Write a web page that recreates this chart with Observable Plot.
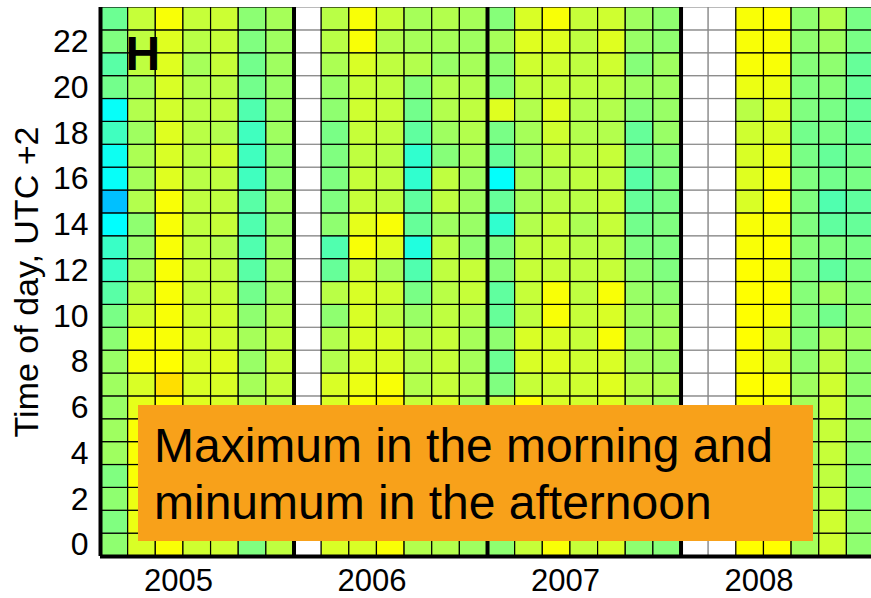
<!DOCTYPE html>
<html>
<head>
<meta charset="utf-8">
<script src="https://cdn.jsdelivr.net/npm/d3@7"></script>
<script src="https://cdn.jsdelivr.net/npm/@observablehq/plot@0.6"></script>
<style>
  html, body { margin: 0; padding: 0; background: #fff; overflow: hidden; }
  #wrap { position: relative; width: 871px; height: 598px; font-family: "Liberation Sans", Arial, sans-serif; }
  #note {
    position: absolute; left: 138px; top: 405px; width: 675px; height: 136px;
    background: #F8A11A; color: #000; box-sizing: border-box;
    padding: 12px 0 0 16px; font-size: 48px; line-height: 57px; white-space: nowrap;
  }
</style>
</head>
<body>
<div id="wrap">
  <div id="chart"></div>
  <div id="note">Maximum in the morning and<br>minumum in the afternoon</div>
</div>
<script>
// Years shown on the x axis; each year has 7 monthly columns
const years = [2005, 2006, 2007, 2008];
const hourTicks = [0, 2, 4, 6, 8, 10, 12, 14, 16, 18, 20, 22];
const panelLabel = "H";
const yLabel = "Time of day, UTC +2";
const N = null;
const missing = [N,N,N,N,N,N,N,N,N,N,N,N,N,N,N,N,N,N,N,N,N,N,N,N];

// Values per column, hour 0 .. hour 23 (colour index, null = no data)
const v2005 = [
  [0.25,0,0.25,0,0.5,0.5,0.4,0.5,0.4,0.2,-0.1,-0.6,-1.1,-1.1,-2,-3,-1.9,-1.8,-1.0,-1.9,-0.2,-0.6,0,-0.3],
  [1.4,1.7,1.7,1.9,1.9,1.9,1.6,1.4,1.9,1.9,1.25,0.9,0.6,0.4,0.25,0.8,0.6,0.7,0.5,0.8,0.6,1.0,1.0,1.1],
  [1.9,1.9,1.9,2.0,2.0,2.2,2.0,2.5,2.0,1.9,1.9,1.9,1.9,1.9,1.9,1.9,1.5,1.4,1.5,1.3,1.4,1.5,1.5,1.9],
  [1.25,1.2,1.3,1.3,1.4,1.4,1.5,1.4,1.4,1.4,1.25,1.1,1.1,1.0,1.0,1.0,0.9,0.9,0.9,0.9,0.8,0.6,0.9,1.1],
  [1.25,1.25,1.2,1.3,1.3,1.4,1.4,1.4,1.5,1.25,1.25,1.1,1.0,0.8,1.1,1.0,1.0,1.25,0.8,1.0,0.9,1.1,1.1,1.2],
  [0,0.2,0.3,0.4,0.5,0.6,0.9,0.6,0.4,0.6,0.25,-0.2,-0.6,-0.75,-0.75,-0.6,-1,-1,-1,-0.75,-0.2,-0.2,0,0.2],
  [1.0,1.0,1.0,0.9,0.9,1.0,1.0,1.1,1.1,1.0,0.8,0.6,0.6,0.5,0.4,0.5,0.25,0.25,0.5,0.4,0.4,0.5,0.5,0.6]
];
const v2006 = [
  missing,
  [1.4,1.3,1.3,1.2,1.2,1.3,1.4,1.4,0.8,0.8,0.25,0.9,-0.4,-0.75,0.25,0,0,0,-0.1,0.25,0.4,0.7,0.9,0.9],
  [1.4,1.5,1.6,1.7,1.9,1.9,1.9,1.7,1.4,1.4,1.4,1.4,1.25,1.9,1.6,1.1,1.1,1.0,1.1,1.25,1.1,1.4,1.9,1.9],
  [1.9,1.9,1.9,1.9,1.9,2.0,2.2,1.9,1.4,1.4,1.0,1.25,0.6,1.5,1.9,1.0,1.0,0.9,1.0,1.1,1.0,1.0,0.8,1.1],
  [0.8,0.8,0.8,0.9,0.9,1.0,1.1,0.8,0.8,0.8,0.4,-0.1,-0.75,-1.5,-0.4,-0.5,-1.25,-1.25,-0.5,-0.2,0.1,0.8,0.6,0.6],
  [0.8,0.9,0.9,1.0,1.1,1.2,1.4,1.1,1.1,1.1,1.0,0.9,1.0,1.0,0.5,1.0,1.0,0.1,0.5,0.8,0.8,0.4,0.6,0.8],
  [0.5,0.5,0.5,0.5,0.6,0.6,0.6,0.8,0.6,0.6,0.8,1.1,1.1,0.25,0.4,0.5,0.5,0.6,0.8,1.0,0.8,0.6,0.5,0.6]
];
const v2007 = [
  [0.25,0.3,0.4,0.4,0.5,0.6,1.1,0,-0.3,0.25,-0.4,-0.5,0.1,0,-1.25,-0.4,-1.95,-0.4,-0.1,1.5,0.1,0.25,0.6,0.1],
  [1.1,1.2,1.3,1.4,1.5,1.6,2.0,1.1,1.4,1.4,1.0,1.1,1.1,1.0,0.8,0.6,0.6,0.5,0.6,0.8,1.0,1.25,1.5,1.4],
  [1.9,1.9,1.9,1.8,1.7,1.6,1.4,1.25,1.5,1.4,1.9,1.9,1.1,1.1,1.1,0.9,0.8,1.0,1.25,1.5,1.1,1.25,1.5,1.9],
  [1.1,1.1,1.1,1.2,1.2,1.3,1.3,1.25,1.25,1.1,1.1,1.0,1.0,0.9,0.7,0.9,1.0,0.9,0.8,0.8,1.0,1.0,1.0,1.1],
  [1.4,1.4,1.4,1.4,1.4,1.5,1.5,1.5,1.4,1.9,1.4,1.9,1.1,1.0,1.1,1.1,1.0,1.1,0.8,0.8,1.0,1.25,1.5,1.25],
  [0.25,0.3,0.4,0.5,0.6,0.7,0.8,0.9,0.6,0.5,0.5,0.4,0.25,0,-0.2,-0.4,-0.6,-0.2,-0.4,0.1,0.5,0.1,0.4,0.5],
  [0.1,0.1,0.2,0.3,0.4,0.5,0.6,0.8,0.5,0.6,0.5,0.25,0,0,0,-0.1,0,0.1,0.4,0.4,0.5,0.5,0.25,0.25]
];
const v2008 = [
  missing,
  missing,
  [2.0,2.0,2.0,2.0,2.0,2.0,2.0,2.0,1.9,2.0,2.0,2.0,2.0,1.9,1.9,1.4,1.5,1.4,1.25,0.9,1.7,1.9,1.9,1.9],
  [2.0,2.0,1.9,1.9,1.9,1.9,1.9,1.9,1.5,1.5,1.9,2.0,1.9,2.0,1.9,2.0,1.9,1.7,1.4,1.5,1.7,1.9,1.9,2.0],
  [0.6,0.6,0.6,0.6,0.6,0.6,0.6,0.5,0.25,0.1,0.1,0.1,0,0.1,0,0,0,-0.1,-0.2,0,0,0.1,0.25,0.25],
  [1.25,1.25,1.1,1.0,1.1,1.1,1.25,1.25,1.0,0.8,-0.2,0.5,-0.5,0,-0.5,-0.75,-0.2,-0.4,-0.1,-0.1,0.1,0.25,0.5,0.8],
  [0.25,0.25,0,0,0.1,0.25,0.25,0.25,0.25,0.5,0.25,0.1,-0.1,-0.1,-0.4,-0.5,-0.1,-0.2,-0.4,-0.4,-0.4,-0.4,-0.1,-0.1]
];

const perYear = [v2005, v2006, v2007, v2008];
const monthsPerYear = 7;
const cells = [];
perYear.forEach((cols, yi) => cols.forEach((col, mi) => col.forEach((v, h) => {
  cells.push({c: yi * monthsPerYear + mi, h, v});
})));
const present = cells.filter(d => d.v !== null);
const absent = cells.filter(d => d.v === null);

const yearTickPos = years.map((y, i) => i * monthsPerYear + 2.82);
const yearOf = new Map(yearTickPos.map((p, i) => [p, String(years[i])]));
const yearBounds = years.map((y, i) => i * monthsPerYear);

const chart = Plot.plot({
  width: 871,
  height: 598,
  marginLeft: 100,
  marginRight: 0,
  marginTop: 7,
  marginBottom: 42,
  style: {fontFamily: "'Liberation Sans', Arial, sans-serif", fontSize: "32px", color: "#000", background: "#fff"},
  x: {domain: [0, 27.89], axis: null},
  y: {domain: [0, 24], axis: null},
  color: {type: "linear", domain: [-4, -2, 2, 6], range: ["#0080ff", "#00ffff", "#ffff00", "#ff0000"], interpolate: "rgb"},
  marks: [
    Plot.rect(absent, {x1: "c", x2: d => d.c + 1, y1: "h", y2: d => d.h + 1, fill: "#fff", stroke: "#8c8c8c", strokeWidth: 1.2, clip: true}),
    Plot.rect(present, {x1: "c", x2: d => d.c + 1, y1: "h", y2: d => d.h + 1, fill: "v", stroke: "#000", strokeWidth: 1.2, clip: true}),
    Plot.ruleX(yearBounds, {stroke: "#000", strokeWidth: 4}),
    Plot.ruleY([0], {stroke: "#000", strokeWidth: 4}),
    Plot.axisY({ticks: hourTicks.map(h => h + 0.5), tickFormat: d => String(Math.round(d - 0.5)), tickSize: 0, tickPadding: 12, label: null}),
    Plot.text([yLabel], {frameAnchor: "left", dx: -87, rotate: -90, lineAnchor: "top", textAnchor: "middle", fontSize: 34, fill: "#000"}),
    Plot.axisX({ticks: yearTickPos, tickFormat: d => yearOf.get(d), tickSize: 0, tickPadding: 12, fontSize: 31, label: null}),
    Plot.text([panelLabel], {frameAnchor: "top-left", dx: 25, dy: 28, lineAnchor: "top", textAnchor: "start", fontSize: 48, fontWeight: "bold", fill: "#000"})
  ]
});
document.getElementById("chart").appendChild(chart);
</script>
</body>
</html>
